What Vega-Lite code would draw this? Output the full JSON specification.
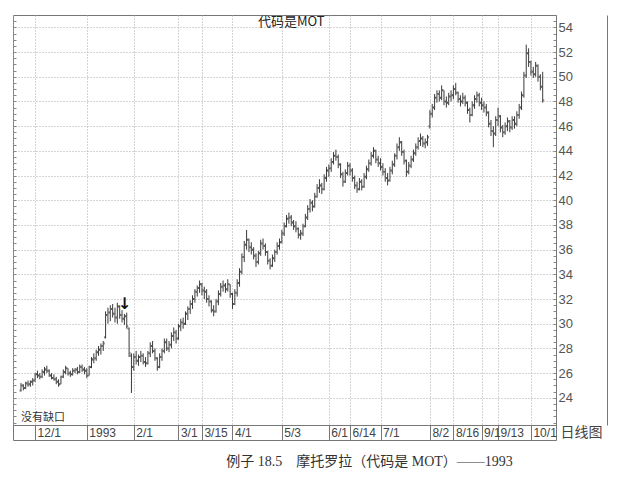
{
  "$schema": "https://vega.github.io/schema/vega-lite/v6.json",
  "width": 543,
  "height": 410,
  "autosize": {"type": "none"},
  "padding": {"left": 13, "top": 15, "right": 70, "bottom": 60},
  "background": "white",
  "config": {"view": {"stroke": "#777", "strokeWidth": 1}, "font": "Liberation Sans"},
  "title": {"text": "例子 18.5　摩托罗拉（代码是 MOT）——1993", "orient": "bottom", "anchor": "middle", "dx": 85, "offset": 14, "font": "Liberation Serif, Noto Sans CJK SC", "fontSize": 14, "fontWeight": "normal", "color": "#333"},
  "datasets": {
    "px": [
      {"i":0,"d":"1992-11-20","o":24.6,"h":25.2,"l":24.5,"c":25.0},
      {"i":1,"d":"1992-11-23","o":25.0,"h":25.1,"l":24.6,"c":24.8},
      {"i":2,"d":"1992-11-24","o":24.8,"h":25.3,"l":24.7,"c":25.2},
      {"i":3,"d":"1992-11-25","o":25.1,"h":25.4,"l":24.9,"c":25.1},
      {"i":4,"d":"1992-11-27","o":25.1,"h":25.4,"l":24.9,"c":25.3},
      {"i":5,"d":"1992-11-30","o":25.3,"h":25.6,"l":25.0,"c":25.4},
      {"i":6,"d":"1992-12-01","o":25.4,"h":26.0,"l":25.3,"c":25.9},
      {"i":7,"d":"1992-12-02","o":25.9,"h":26.2,"l":25.6,"c":25.8},
      {"i":8,"d":"1992-12-03","o":25.8,"h":26.0,"l":25.5,"c":25.7},
      {"i":9,"d":"1992-12-04","o":25.7,"h":26.3,"l":25.6,"c":26.1},
      {"i":10,"d":"1992-12-07","o":26.1,"h":26.5,"l":25.8,"c":26.3},
      {"i":11,"d":"1992-12-08","o":26.3,"h":26.6,"l":26.0,"c":26.2},
      {"i":12,"d":"1992-12-09","o":26.2,"h":26.3,"l":25.7,"c":25.8},
      {"i":13,"d":"1992-12-10","o":25.8,"h":26.0,"l":25.5,"c":25.6},
      {"i":14,"d":"1992-12-11","o":25.6,"h":25.9,"l":25.4,"c":25.5},
      {"i":15,"d":"1992-12-14","o":25.5,"h":25.7,"l":25.1,"c":25.3},
      {"i":16,"d":"1992-12-15","o":25.3,"h":25.5,"l":24.9,"c":25.1},
      {"i":17,"d":"1992-12-16","o":25.1,"h":25.8,"l":25.1,"c":25.7},
      {"i":18,"d":"1992-12-17","o":25.7,"h":26.3,"l":25.6,"c":26.1},
      {"i":19,"d":"1992-12-18","o":26.1,"h":26.6,"l":25.9,"c":26.4},
      {"i":20,"d":"1992-12-21","o":26.4,"h":26.4,"l":25.8,"c":26.0},
      {"i":21,"d":"1992-12-22","o":26.0,"h":26.2,"l":25.7,"c":25.9},
      {"i":22,"d":"1992-12-23","o":25.9,"h":26.4,"l":25.8,"c":26.2},
      {"i":23,"d":"1992-12-24","o":26.2,"h":26.4,"l":26.0,"c":26.3},
      {"i":24,"d":"1992-12-28","o":26.3,"h":26.5,"l":25.9,"c":26.1},
      {"i":25,"d":"1992-12-29","o":26.1,"h":26.7,"l":26.0,"c":26.5},
      {"i":26,"d":"1992-12-30","o":26.5,"h":26.7,"l":26.1,"c":26.3},
      {"i":27,"d":"1992-12-31","o":26.3,"h":26.5,"l":25.9,"c":26.2},
      {"i":28,"d":"1993-01-04","o":26.2,"h":26.4,"l":25.6,"c":25.8},
      {"i":29,"d":"1993-01-05","o":25.8,"h":26.6,"l":25.8,"c":26.5},
      {"i":30,"d":"1993-01-06","o":26.5,"h":27.3,"l":26.4,"c":27.1},
      {"i":31,"d":"1993-01-07","o":27.1,"h":27.6,"l":26.8,"c":27.2},
      {"i":32,"d":"1993-01-08","o":27.2,"h":27.9,"l":27.0,"c":27.7},
      {"i":33,"d":"1993-01-11","o":27.7,"h":28.2,"l":27.4,"c":27.9},
      {"i":34,"d":"1993-01-12","o":27.9,"h":28.4,"l":27.5,"c":28.2},
      {"i":35,"d":"1993-01-13","o":28.2,"h":28.6,"l":27.8,"c":28.4},
      {"i":36,"d":"1993-01-14","o":28.9,"h":31.0,"l":28.8,"c":30.7},
      {"i":37,"d":"1993-01-15","o":30.7,"h":31.3,"l":30.0,"c":30.9},
      {"i":38,"d":"1993-01-18","o":30.9,"h":31.5,"l":30.2,"c":31.2},
      {"i":39,"d":"1993-01-19","o":31.2,"h":31.6,"l":30.5,"c":30.8},
      {"i":40,"d":"1993-01-20","o":30.8,"h":31.3,"l":30.1,"c":30.5},
      {"i":41,"d":"1993-01-21","o":30.5,"h":31.7,"l":30.0,"c":31.4},
      {"i":42,"d":"1993-01-22","o":31.4,"h":31.5,"l":30.4,"c":30.7},
      {"i":43,"d":"1993-01-25","o":30.7,"h":31.1,"l":30.1,"c":30.4},
      {"i":44,"d":"1993-01-26","o":30.4,"h":30.8,"l":29.9,"c":30.6},
      {"i":45,"d":"1993-01-27","o":30.6,"h":30.9,"l":29.6,"c":29.8},
      {"i":46,"d":"1993-01-28","o":29.6,"h":29.7,"l":27.3,"c":27.6},
      {"i":47,"d":"1993-01-29","o":27.4,"h":27.6,"l":24.4,"c":26.5},
      {"i":48,"d":"1993-02-01","o":26.5,"h":27.6,"l":26.2,"c":27.3},
      {"i":49,"d":"1993-02-02","o":27.3,"h":27.8,"l":26.7,"c":27.0},
      {"i":50,"d":"1993-02-03","o":27.0,"h":27.5,"l":26.6,"c":27.3},
      {"i":51,"d":"1993-02-04","o":27.3,"h":27.8,"l":26.9,"c":27.4},
      {"i":52,"d":"1993-02-05","o":27.4,"h":27.6,"l":26.7,"c":26.9},
      {"i":53,"d":"1993-02-08","o":26.9,"h":27.3,"l":26.5,"c":26.8},
      {"i":54,"d":"1993-02-09","o":26.8,"h":27.8,"l":26.7,"c":27.6},
      {"i":55,"d":"1993-02-10","o":27.6,"h":28.5,"l":27.3,"c":28.2},
      {"i":56,"d":"1993-02-11","o":28.2,"h":28.6,"l":27.6,"c":27.8},
      {"i":57,"d":"1993-02-12","o":27.8,"h":28.0,"l":27.0,"c":27.2},
      {"i":58,"d":"1993-02-16","o":27.2,"h":27.3,"l":26.2,"c":26.5},
      {"i":59,"d":"1993-02-17","o":26.5,"h":27.6,"l":26.4,"c":27.3},
      {"i":60,"d":"1993-02-18","o":27.3,"h":28.0,"l":27.0,"c":27.8},
      {"i":61,"d":"1993-02-19","o":27.8,"h":28.8,"l":27.6,"c":28.5},
      {"i":62,"d":"1993-02-22","o":28.5,"h":28.8,"l":27.8,"c":28.0},
      {"i":63,"d":"1993-02-23","o":28.0,"h":28.6,"l":27.7,"c":28.3},
      {"i":64,"d":"1993-02-24","o":28.3,"h":29.3,"l":28.0,"c":29.0},
      {"i":65,"d":"1993-02-25","o":29.0,"h":29.7,"l":28.6,"c":29.3},
      {"i":66,"d":"1993-02-26","o":29.3,"h":29.5,"l":28.4,"c":28.8},
      {"i":67,"d":"1993-03-01","o":28.8,"h":30.0,"l":28.7,"c":29.8},
      {"i":68,"d":"1993-03-02","o":29.8,"h":30.4,"l":29.4,"c":30.1},
      {"i":69,"d":"1993-03-03","o":30.1,"h":30.5,"l":29.6,"c":30.0},
      {"i":70,"d":"1993-03-04","o":30.0,"h":31.0,"l":29.9,"c":30.8},
      {"i":71,"d":"1993-03-05","o":30.8,"h":31.4,"l":30.3,"c":31.2},
      {"i":72,"d":"1993-03-08","o":31.2,"h":31.9,"l":30.8,"c":31.6},
      {"i":73,"d":"1993-03-09","o":31.6,"h":32.3,"l":31.2,"c":32.0},
      {"i":74,"d":"1993-03-10","o":32.0,"h":32.8,"l":31.7,"c":32.6},
      {"i":75,"d":"1993-03-11","o":32.6,"h":33.1,"l":32.2,"c":32.9},
      {"i":76,"d":"1993-03-12","o":32.9,"h":33.5,"l":32.5,"c":33.2},
      {"i":77,"d":"1993-03-15","o":33.2,"h":33.3,"l":32.3,"c":32.7},
      {"i":78,"d":"1993-03-16","o":32.7,"h":33.0,"l":32.0,"c":32.6},
      {"i":79,"d":"1993-03-17","o":32.6,"h":32.8,"l":31.7,"c":32.0},
      {"i":80,"d":"1993-03-18","o":32.0,"h":32.3,"l":31.4,"c":31.8},
      {"i":81,"d":"1993-03-19","o":31.8,"h":31.9,"l":30.9,"c":31.1},
      {"i":82,"d":"1993-03-22","o":31.1,"h":31.5,"l":30.6,"c":31.0},
      {"i":83,"d":"1993-03-23","o":31.0,"h":32.0,"l":30.9,"c":31.8},
      {"i":84,"d":"1993-03-24","o":31.8,"h":32.7,"l":31.5,"c":32.4},
      {"i":85,"d":"1993-03-25","o":32.4,"h":33.3,"l":32.2,"c":33.0},
      {"i":86,"d":"1993-03-26","o":33.0,"h":33.5,"l":32.6,"c":33.1},
      {"i":87,"d":"1993-03-29","o":33.1,"h":33.3,"l":32.5,"c":32.8},
      {"i":88,"d":"1993-03-30","o":32.8,"h":33.6,"l":32.6,"c":33.2},
      {"i":89,"d":"1993-03-31","o":33.2,"h":33.2,"l":32.1,"c":32.4},
      {"i":90,"d":"1993-04-01","o":32.4,"h":32.5,"l":31.2,"c":31.6},
      {"i":91,"d":"1993-04-02","o":31.6,"h":32.8,"l":31.5,"c":32.5},
      {"i":92,"d":"1993-04-05","o":32.5,"h":33.6,"l":32.2,"c":33.3},
      {"i":93,"d":"1993-04-06","o":33.3,"h":34.5,"l":33.0,"c":34.2},
      {"i":94,"d":"1993-04-07","o":34.2,"h":35.7,"l":34.0,"c":35.4},
      {"i":95,"d":"1993-04-08","o":35.4,"h":36.7,"l":35.0,"c":36.4},
      {"i":96,"d":"1993-04-12","o":36.4,"h":37.6,"l":36.0,"c":36.8},
      {"i":97,"d":"1993-04-13","o":36.8,"h":36.9,"l":35.8,"c":36.2},
      {"i":98,"d":"1993-04-14","o":36.2,"h":36.6,"l":35.6,"c":36.0},
      {"i":99,"d":"1993-04-15","o":36.0,"h":36.2,"l":35.2,"c":35.5},
      {"i":100,"d":"1993-04-16","o":35.5,"h":35.7,"l":34.6,"c":35.0},
      {"i":101,"d":"1993-04-19","o":35.0,"h":35.9,"l":34.8,"c":35.7},
      {"i":102,"d":"1993-04-20","o":35.7,"h":36.8,"l":35.5,"c":36.5},
      {"i":103,"d":"1993-04-21","o":36.5,"h":36.9,"l":36.0,"c":36.3},
      {"i":104,"d":"1993-04-22","o":36.3,"h":36.5,"l":35.5,"c":35.8},
      {"i":105,"d":"1993-04-23","o":35.8,"h":35.9,"l":34.8,"c":35.1},
      {"i":106,"d":"1993-04-26","o":35.1,"h":35.3,"l":34.4,"c":34.7},
      {"i":107,"d":"1993-04-27","o":34.7,"h":35.6,"l":34.6,"c":35.3},
      {"i":108,"d":"1993-04-28","o":35.3,"h":36.0,"l":35.0,"c":35.8},
      {"i":109,"d":"1993-04-29","o":35.8,"h":36.6,"l":35.6,"c":36.3},
      {"i":110,"d":"1993-04-30","o":36.3,"h":36.9,"l":36.0,"c":36.6},
      {"i":111,"d":"1993-05-03","o":36.6,"h":37.6,"l":36.5,"c":37.3},
      {"i":112,"d":"1993-05-04","o":37.3,"h":38.2,"l":37.1,"c":37.9},
      {"i":113,"d":"1993-05-05","o":37.9,"h":38.8,"l":37.8,"c":38.5},
      {"i":114,"d":"1993-05-06","o":38.5,"h":39.0,"l":38.1,"c":38.6},
      {"i":115,"d":"1993-05-07","o":38.6,"h":38.8,"l":37.9,"c":38.2},
      {"i":116,"d":"1993-05-10","o":38.2,"h":38.4,"l":37.6,"c":37.9},
      {"i":117,"d":"1993-05-11","o":37.9,"h":38.3,"l":37.4,"c":37.7},
      {"i":118,"d":"1993-05-12","o":37.7,"h":37.8,"l":36.9,"c":37.2},
      {"i":119,"d":"1993-05-13","o":37.2,"h":37.6,"l":36.8,"c":37.3},
      {"i":120,"d":"1993-05-14","o":37.3,"h":38.1,"l":37.1,"c":37.9},
      {"i":121,"d":"1993-05-17","o":37.9,"h":38.9,"l":37.8,"c":38.6},
      {"i":122,"d":"1993-05-18","o":38.6,"h":39.6,"l":38.4,"c":39.3},
      {"i":123,"d":"1993-05-19","o":39.3,"h":40.1,"l":39.0,"c":39.8},
      {"i":124,"d":"1993-05-20","o":39.8,"h":40.0,"l":39.1,"c":39.5},
      {"i":125,"d":"1993-05-21","o":39.5,"h":40.6,"l":39.4,"c":40.3},
      {"i":126,"d":"1993-05-24","o":40.3,"h":41.3,"l":40.2,"c":41.0},
      {"i":127,"d":"1993-05-25","o":41.0,"h":41.7,"l":40.6,"c":41.2},
      {"i":128,"d":"1993-05-26","o":41.2,"h":41.4,"l":40.5,"c":40.9},
      {"i":129,"d":"1993-05-27","o":40.9,"h":42.1,"l":40.8,"c":41.8},
      {"i":130,"d":"1993-05-28","o":41.8,"h":42.7,"l":41.5,"c":42.4},
      {"i":131,"d":"1993-06-01","o":42.4,"h":42.9,"l":41.9,"c":42.6},
      {"i":132,"d":"1993-06-02","o":42.6,"h":43.4,"l":42.3,"c":43.1},
      {"i":133,"d":"1993-06-03","o":43.1,"h":43.9,"l":42.9,"c":43.6},
      {"i":134,"d":"1993-06-04","o":43.6,"h":44.1,"l":43.2,"c":43.5},
      {"i":135,"d":"1993-06-07","o":43.5,"h":43.7,"l":42.6,"c":42.9},
      {"i":136,"d":"1993-06-08","o":42.9,"h":43.0,"l":41.8,"c":42.1},
      {"i":137,"d":"1993-06-09","o":42.1,"h":42.3,"l":41.1,"c":41.5},
      {"i":138,"d":"1993-06-10","o":41.5,"h":42.5,"l":41.4,"c":42.2},
      {"i":139,"d":"1993-06-11","o":42.2,"h":43.1,"l":42.0,"c":42.8},
      {"i":140,"d":"1993-06-14","o":42.8,"h":43.0,"l":42.0,"c":42.4},
      {"i":141,"d":"1993-06-15","o":42.4,"h":42.6,"l":41.5,"c":41.8},
      {"i":142,"d":"1993-06-16","o":41.8,"h":42.0,"l":40.9,"c":41.2},
      {"i":143,"d":"1993-06-17","o":41.2,"h":41.5,"l":40.6,"c":40.9},
      {"i":144,"d":"1993-06-18","o":40.9,"h":41.8,"l":40.8,"c":41.5},
      {"i":145,"d":"1993-06-21","o":41.5,"h":41.7,"l":40.8,"c":41.1},
      {"i":146,"d":"1993-06-22","o":41.1,"h":42.2,"l":41.0,"c":41.9},
      {"i":147,"d":"1993-06-23","o":41.9,"h":42.8,"l":41.7,"c":42.5},
      {"i":148,"d":"1993-06-24","o":42.5,"h":43.3,"l":42.3,"c":43.0},
      {"i":149,"d":"1993-06-25","o":43.0,"h":43.9,"l":42.8,"c":43.6},
      {"i":150,"d":"1993-06-28","o":43.6,"h":44.3,"l":43.4,"c":44.0},
      {"i":151,"d":"1993-06-29","o":44.0,"h":44.1,"l":43.0,"c":43.3},
      {"i":152,"d":"1993-06-30","o":43.3,"h":43.6,"l":42.7,"c":43.0},
      {"i":153,"d":"1993-07-01","o":43.0,"h":43.4,"l":42.4,"c":42.7},
      {"i":154,"d":"1993-07-02","o":42.7,"h":43.0,"l":42.0,"c":42.3},
      {"i":155,"d":"1993-07-06","o":42.3,"h":42.6,"l":41.5,"c":41.8},
      {"i":156,"d":"1993-07-07","o":41.8,"h":42.2,"l":41.2,"c":41.6},
      {"i":157,"d":"1993-07-08","o":41.6,"h":42.7,"l":41.5,"c":42.4},
      {"i":158,"d":"1993-07-09","o":42.4,"h":43.2,"l":42.1,"c":42.9},
      {"i":159,"d":"1993-07-12","o":42.9,"h":43.8,"l":42.7,"c":43.6},
      {"i":160,"d":"1993-07-13","o":43.6,"h":44.6,"l":43.3,"c":44.3},
      {"i":161,"d":"1993-07-14","o":44.3,"h":45.1,"l":44.0,"c":44.7},
      {"i":162,"d":"1993-07-15","o":44.7,"h":44.8,"l":43.6,"c":43.9},
      {"i":163,"d":"1993-07-16","o":43.9,"h":44.1,"l":42.9,"c":43.2},
      {"i":164,"d":"1993-07-19","o":43.2,"h":43.3,"l":41.9,"c":42.3},
      {"i":165,"d":"1993-07-20","o":42.3,"h":43.1,"l":42.1,"c":42.8},
      {"i":166,"d":"1993-07-21","o":42.8,"h":43.6,"l":42.6,"c":43.3},
      {"i":167,"d":"1993-07-22","o":43.3,"h":44.1,"l":43.1,"c":43.8},
      {"i":168,"d":"1993-07-23","o":43.8,"h":44.6,"l":43.6,"c":44.3},
      {"i":169,"d":"1993-07-26","o":44.3,"h":45.1,"l":44.1,"c":44.8},
      {"i":170,"d":"1993-07-27","o":44.8,"h":45.4,"l":44.4,"c":45.0},
      {"i":171,"d":"1993-07-28","o":45.0,"h":45.2,"l":44.3,"c":44.6},
      {"i":172,"d":"1993-07-29","o":44.6,"h":45.0,"l":44.2,"c":44.7},
      {"i":173,"d":"1993-07-30","o":44.7,"h":45.3,"l":44.4,"c":45.1},
      {"i":174,"d":"1993-08-02","o":46.0,"h":47.3,"l":45.8,"c":47.0},
      {"i":175,"d":"1993-08-03","o":47.0,"h":47.8,"l":46.7,"c":47.5},
      {"i":176,"d":"1993-08-04","o":47.5,"h":48.6,"l":47.3,"c":48.3},
      {"i":177,"d":"1993-08-05","o":48.3,"h":48.9,"l":47.9,"c":48.6},
      {"i":178,"d":"1993-08-06","o":48.6,"h":48.9,"l":48.0,"c":48.3},
      {"i":179,"d":"1993-08-09","o":48.3,"h":49.3,"l":48.1,"c":48.9},
      {"i":180,"d":"1993-08-10","o":48.9,"h":48.9,"l":47.7,"c":48.0},
      {"i":181,"d":"1993-08-11","o":48.0,"h":48.4,"l":47.5,"c":47.9},
      {"i":182,"d":"1993-08-12","o":47.9,"h":48.7,"l":47.7,"c":48.4},
      {"i":183,"d":"1993-08-13","o":48.4,"h":48.9,"l":48.0,"c":48.5},
      {"i":184,"d":"1993-08-16","o":48.5,"h":49.3,"l":48.2,"c":49.0},
      {"i":185,"d":"1993-08-17","o":49.0,"h":49.5,"l":48.5,"c":48.7},
      {"i":186,"d":"1993-08-18","o":48.7,"h":48.8,"l":47.9,"c":48.2},
      {"i":187,"d":"1993-08-19","o":48.2,"h":48.5,"l":47.6,"c":48.0},
      {"i":188,"d":"1993-08-20","o":48.0,"h":48.7,"l":47.8,"c":48.3},
      {"i":189,"d":"1993-08-23","o":48.3,"h":48.5,"l":47.6,"c":47.9},
      {"i":190,"d":"1993-08-24","o":47.9,"h":48.0,"l":47.0,"c":47.3},
      {"i":191,"d":"1993-08-25","o":47.3,"h":47.5,"l":46.3,"c":46.9},
      {"i":192,"d":"1993-08-26","o":46.9,"h":48.0,"l":46.8,"c":47.7},
      {"i":193,"d":"1993-08-27","o":47.7,"h":48.5,"l":47.4,"c":48.2},
      {"i":194,"d":"1993-08-30","o":48.2,"h":48.8,"l":47.9,"c":48.5},
      {"i":195,"d":"1993-08-31","o":48.5,"h":48.7,"l":47.6,"c":47.9},
      {"i":196,"d":"1993-09-01","o":47.9,"h":48.3,"l":47.3,"c":47.7},
      {"i":197,"d":"1993-09-02","o":47.7,"h":48.0,"l":47.1,"c":47.5},
      {"i":198,"d":"1993-09-03","o":47.5,"h":47.8,"l":46.8,"c":47.1},
      {"i":199,"d":"1993-09-07","o":47.1,"h":47.2,"l":45.9,"c":46.2},
      {"i":200,"d":"1993-09-08","o":46.2,"h":46.5,"l":45.2,"c":45.6},
      {"i":201,"d":"1993-09-09","o":45.6,"h":46.0,"l":44.3,"c":45.4},
      {"i":202,"d":"1993-09-10","o":45.4,"h":46.8,"l":45.2,"c":46.5},
      {"i":203,"d":"1993-09-13","o":46.5,"h":47.5,"l":46.0,"c":46.8},
      {"i":204,"d":"1993-09-14","o":46.8,"h":46.9,"l":45.5,"c":45.9},
      {"i":205,"d":"1993-09-15","o":45.9,"h":46.1,"l":45.1,"c":45.5},
      {"i":206,"d":"1993-09-16","o":45.5,"h":46.3,"l":45.3,"c":46.0},
      {"i":207,"d":"1993-09-17","o":46.0,"h":46.7,"l":45.6,"c":46.4},
      {"i":208,"d":"1993-09-20","o":46.4,"h":46.5,"l":45.5,"c":45.9},
      {"i":209,"d":"1993-09-21","o":45.9,"h":46.8,"l":45.7,"c":46.5},
      {"i":210,"d":"1993-09-22","o":46.5,"h":46.8,"l":45.8,"c":46.2},
      {"i":211,"d":"1993-09-23","o":46.2,"h":47.2,"l":46.0,"c":46.9},
      {"i":212,"d":"1993-09-24","o":46.9,"h":47.8,"l":46.6,"c":47.5},
      {"i":213,"d":"1993-09-27","o":47.5,"h":48.8,"l":47.3,"c":48.5},
      {"i":214,"d":"1993-09-28","o":48.5,"h":50.4,"l":48.3,"c":50.1},
      {"i":215,"d":"1993-09-29","o":50.1,"h":52.6,"l":49.9,"c":51.9},
      {"i":216,"d":"1993-09-30","o":51.9,"h":52.3,"l":50.8,"c":51.2},
      {"i":217,"d":"1993-10-01","o":51.2,"h":51.3,"l":50.1,"c":50.4},
      {"i":218,"d":"1993-10-04","o":50.4,"h":50.8,"l":49.9,"c":50.2},
      {"i":219,"d":"1993-10-05","o":50.2,"h":51.2,"l":50.0,"c":50.9},
      {"i":220,"d":"1993-10-06","o":50.9,"h":51.0,"l":49.6,"c":50.0},
      {"i":221,"d":"1993-10-07","o":50.0,"h":50.2,"l":48.9,"c":49.2},
      {"i":222,"d":"1993-10-08","o":49.2,"h":50.4,"l":47.9,"c":48.1}
    ]
  },
  "layer": [
    {
      "data": {"name": "px"},
      "mark": {"type": "rule", "color": "#3a3a3a", "strokeWidth": 1},
      "encoding": {
        "x": {
          "field": "i", "type": "quantitative",
          "scale": {"domain": [-3.4, 227.66], "nice": false, "zero": false},
          "axis": {
            "orient": "bottom",
            "values": [-3.4, 6, 28, 48, 67, 77, 90, 111, 131, 140, 153, 174, 184, 196, 203, 217, 227.66],
            "labelExpr": "datum.value == 6 ? '12/1' : datum.value == 28 ? '1993' : datum.value == 48 ? '2/1' : datum.value == 67 ? '3/1' : datum.value == 77 ? '3/15' : datum.value == 90 ? '4/1' : datum.value == 111 ? '5/3' : datum.value == 131 ? '6/1' : datum.value == 140 ? '6/14' : datum.value == 153 ? '7/1' : datum.value == 174 ? '8/2' : datum.value == 184 ? '8/16' : datum.value == 196 ? '9/1' : datum.value == 203 ? '9/13' : datum.value == 217 ? '10/1' : ''",
            "domain": true, "domainColor": "#777",
            "ticks": true, "tickSize": 15, "tickColor": "#777",
            "grid": true, "gridColor": "#aaa", "gridDash": [1, 2],
            "labelAngle": 0, "labelAlign": "left", "labelBaseline": "middle",
            "labelPadding": -8, "labelOffset": 2, "labelOverlap": false, "labelFlush": false,
            "labelFontSize": 12, "labelColor": "#444", "labelFont": "Liberation Sans",
            "title": "日线图", "titleX": 568, "titleY": 7, "titleAlign": "center", "titleBaseline": "middle",
            "titleAnchor": null, "titleFontSize": 14, "titleFontWeight": "normal", "titleColor": "#444",
            "titleFont": "Noto Sans CJK SC"
          }
        },
        "y": {
          "field": "l", "type": "quantitative",
          "scale": {"domain": [21.8, 55], "nice": false, "zero": false},
          "axis": {
            "orient": "right",
            "values": [22, 22.5, 23, 23.5, 24, 24.5, 25, 25.5, 26, 26.5, 27, 27.5, 28, 28.5, 29, 29.5, 30, 30.5, 31, 31.5, 32, 32.5, 33, 33.5, 34, 34.5, 35, 35.5, 36, 36.5, 37, 37.5, 38, 38.5, 39, 39.5, 40, 40.5, 41, 41.5, 42, 42.5, 43, 43.5, 44, 44.5, 45, 45.5, 46, 46.5, 47, 47.5, 48, 48.5, 49, 49.5, 50, 50.5, 51, 51.5, 52, 52.5, 53, 53.5, 54, 54.5],
            "labelExpr": "datum.value >= 24 && datum.value % 2 == 0 ? format(datum.value, 'd') : ''",
            "domain": true, "domainColor": "#777",
            "ticks": true, "tickSize": -3, "tickColor": "#888",
            "labelPadding": 5, "labelFlush": false,
            "labelFontSize": 13, "labelColor": "#555", "labelFont": "Liberation Sans",
            "grid": true, "gridColor": "#aaa", "gridDash": [1, 2],
            "gridOpacity": {"condition": {"test": "datum.value >= 24 && datum.value % 2 == 0", "value": 1}, "value": 0},
            "title": null
          }
        },
        "y2": {"field": "h"}
      }
    },
    {
      "data": {"name": "px"},
      "mark": {"type": "tick", "color": "#3a3a3a", "size": 2, "thickness": 1, "xOffset": -1},
      "encoding": {
        "x": {
          "field": "i", "type": "quantitative",
          "axis": {"orient": "top", "offset": -425, "domain": true, "domainColor": "#777", "labels": false, "ticks": false, "grid": false, "title": null}
        },
        "y": {
          "field": "o", "type": "quantitative",
          "axis": {"orient": "left", "offset": -594, "domain": true, "domainColor": "#777", "labels": false, "ticks": false, "grid": false, "title": null}
        }
      }
    },
    {
      "data": {"name": "px"},
      "mark": {"type": "tick", "color": "#3a3a3a", "size": 2, "thickness": 1, "xOffset": 1},
      "encoding": {
        "x": {"field": "i", "type": "quantitative", "axis": null},
        "y": {
          "field": "c", "type": "quantitative",
          "axis": {
            "orient": "left",
            "values": [22, 22.5, 23, 23.5, 24, 24.5, 25, 25.5, 26, 26.5, 27, 27.5, 28, 28.5, 29, 29.5, 30, 30.5, 31, 31.5, 32, 32.5, 33, 33.5, 34, 34.5, 35, 35.5, 36, 36.5, 37, 37.5, 38, 38.5, 39, 39.5, 40, 40.5, 41, 41.5, 42, 42.5, 43, 43.5, 44, 44.5, 45, 45.5, 46, 46.5, 47, 47.5, 48, 48.5, 49, 49.5, 50, 50.5, 51, 51.5, 52, 52.5, 53, 53.5, 54, 54.5],
            "domain": false, "labels": false, "ticks": true, "tickSize": -3, "tickColor": "#888", "grid": false, "title": null
          }
        }
      }
    },
    {
      "data": {"values": [{"i": 115, "v": 54.4, "t": "代码是MOT"}]},
      "mark": {"type": "text", "font": "Noto Sans CJK SC", "fontSize": 13, "color": "#222", "align": "center", "baseline": "middle"},
      "encoding": {
        "x": {"field": "i", "type": "quantitative", "axis": null},
        "y": {"field": "v", "type": "quantitative", "axis": null},
        "text": {"field": "t"}
      }
    },
    {
      "data": {"values": [{"i": 0, "v": 22.4, "t": "没有缺口"}]},
      "mark": {"type": "text", "font": "Noto Sans CJK SC", "fontSize": 11, "color": "#333", "align": "left", "baseline": "middle"},
      "encoding": {
        "x": {"field": "i", "type": "quantitative", "axis": null},
        "y": {"field": "v", "type": "quantitative", "axis": null},
        "text": {"field": "t"}
      }
    },
    {
      "data": {"values": [{"i": 44, "v": 31.6, "t": "↓"}]},
      "mark": {"type": "text", "font": "DejaVu Sans", "fontSize": 16, "fontWeight": "bold", "color": "#111", "align": "center", "baseline": "middle"},
      "encoding": {
        "x": {"field": "i", "type": "quantitative", "axis": null},
        "y": {"field": "v", "type": "quantitative", "axis": null},
        "text": {"field": "t"}
      }
    }
  ],
  "resolve": {"axis": {"x": "independent", "y": "independent"}}
}
